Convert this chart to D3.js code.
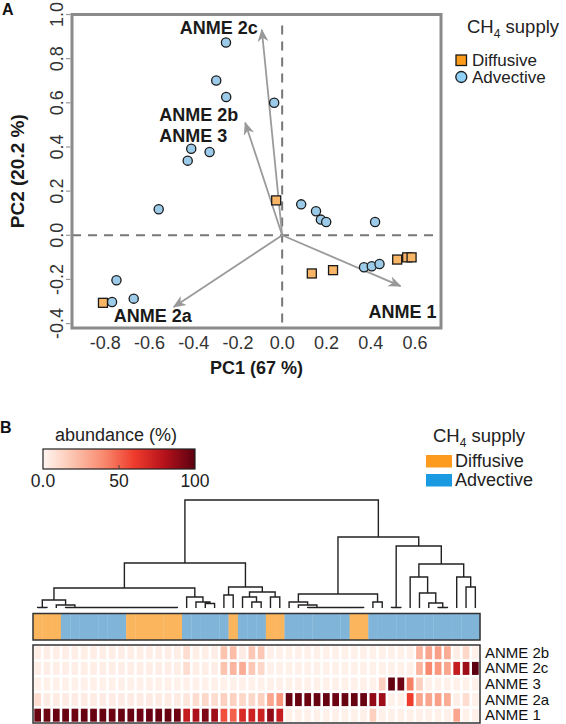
<!DOCTYPE html>
<html><head><meta charset="utf-8">
<script src="https://cdn.jsdelivr.net/npm/d3@7"></script>
<style>body{margin:0;background:#fff}svg{display:block}text{font-family:"Liberation Sans",Arial,sans-serif}</style>
</head><body><svg id="c" width="566" height="724"></svg>
<script>
// ---------------- DATA ----------------
// Panel A: PCA scores
const advectivePts = [[-0.254,0.873],[-0.298,0.701],[-0.253,0.626],[-0.036,0.600],[-0.411,0.392],[-0.328,0.377],[-0.427,0.338],[-0.558,0.118],[0.086,0.140],[0.153,0.109],[0.175,0.071],[0.199,0.060],[-0.749,-0.204],[-0.769,-0.302],[-0.671,-0.287],[0.42,0.06],[0.37,-0.145],[0.405,-0.14],[0.44,-0.13]];
const diffusivePts = [[-0.81,-0.306],[-0.027,0.158],[0.134,-0.173],[0.23,-0.158],[0.52,-0.11],[0.565,-0.10],[0.585,-0.10]];
const loadingNames = ["ANME 2c","ANME 2b/3","ANME 2a","ANME 1"];
const loadingX = [-0.092,-0.167,-0.49,0.535];
const loadingY = [0.931,0.51,-0.325,-0.23];
const xTicks = [-0.8,-0.6,-0.4,-0.2,0.0,0.2,0.4,0.6];
const yTicks = [-0.4,-0.2,0.0,0.2,0.4,0.6,0.8,1.0];
const supplyTypes = ["Diffusive","Advective"];

// Panel B: heatmap
const groups = ["ANME 2b","ANME 2c","ANME 3","ANME 2a","ANME 1"];
const sampleSupply = ("DDD"+"AAAAAAA"+"DDDDDD"+"AAAAA"+"D"+"AAA"+"DD"+"AAAAAAA"+"DD"+"AAAAAAAAAAAA").split("");
const anme2b = [3,3,3,3,3,3,3,3,3,3,3,3,3,3,3,3, 10,3,3,3,20,22,4,18,18, 2,2,2,2,2,2,2,2,2,2,2,2,2,2,2,2, 25,30,32,28,3,12,2];
const anme2c = [3,3,3,3,3,3,3,3,3,3,3,3,3,3,3,3, 10,3,3,3,20,25,28,18,12, 2,2,2,2,2,2,2,2,2,2,2,2,2,2,2,2, 25,40,35,30,75,85,100];
const anme3  = [2,2,2,2,2,2,2,2,2,2,2,2,2,2,2,2, 2,2,2,2,2,2,2,2,2, 2,2,2,2,2,2,2,2,2,2,2,2, 15,98,95,42,15, 2,2,2,2,2,2];
const anme2a = [10,4,4,4,4,4,4,4,4,4,4,4,4,4,4,4, 6,10,12,10,15,15,12,12,15, 30,35,97,97,96,97,97,96,97,97,97,88,85, 2,2,60,30,30,32,28,3,10,2];
const anme1  = [97,96,97,97,96,97,97,97,96,97,97,96,97,97,97,96, 75,82,92,85,55,50,68,72,72, 88,75,2,2,2,2,2,2,2,2,2,15,2, 2,2,2,2,2,2,2,30,2,2];
const heatRows = [anme2b, anme2c, anme3, anme2a, anme1];
const colorTicks = [0,50,100];
const colorTickLabels = ["0.0","50","100"];
// dendrogram: [height, left, right], leaves = column index
const dendroTree =
[1.0,
  [0.417,
    [0.185,
      [0.074,
        [0.004,0,1],
        [0.028,2,[0.005,3,[0.005,4,[0.005,5,[0.005,6,[0.005,7,[0.005,8,[0.005,9,[0.005,10,[0.005,11,[0.005,12,[0.005,13,[0.005,14,15]]]]]]]]]]]]]
      ],
      [0.102,16,[0.056,17,[0.042,18,19]]]
    ],
    [0.194,
      [0.12,20,21],
      [0.148,[0.102,22,[0.056,23,24]],[0.102,25,26]]
    ]
  ],
  [0.657,
    [0.130,
      [0.056,27,[0.028,28,[0.005,29,[0.005,30,[0.005,31,[0.005,32,[0.005,33,[0.005,34,35]]]]]]]],
      [0.056,36,37]
    ],
    [0.574,
      [0.005,38,39],
      [0.407,
        [0.287,40,[0.139,41,[0.046,42,[0.005,43,44]]]],
        [0.287,45,[0.194,46,47]]
      ]
    ]
  ]
];

// ---------------- DRAW ----------------
const svg = d3.select("#c");

// ===== Panel A =====
const x = d3.scaleLinear().domain([-0.95,0.718]).range([72,441]);
const y = d3.scaleLinear().domain([-0.42,1.0]).range([328,14.5]);
const gA = svg.append("g");

gA.append("text").attr("x",2).attr("y",15).attr("font-size",16).attr("font-weight","bold").attr("fill","#111").text("A");

// dashed zero lines
gA.append("line").attr("x1",x(0)).attr("x2",x(0)).attr("y1",y.range()[1]+11).attr("y2",y.range()[0])
  .attr("stroke","#777").attr("stroke-width",2).attr("stroke-dasharray","9,7");
gA.append("line").attr("x1",x.range()[0]).attr("x2",x.range()[1]).attr("y1",y(0)).attr("y2",y(0))
  .attr("stroke","#777").attr("stroke-width",2).attr("stroke-dasharray","9,7");

// arrows
const defs = svg.append("defs");
defs.append("marker").attr("id","ah").attr("viewBox","0 0 12 12").attr("refX",11).attr("refY",6)
  .attr("markerWidth",13).attr("markerHeight",13).attr("markerUnits","userSpaceOnUse").attr("orient","auto")
  .append("path").attr("d","M0,1 L12,6 L0,11 L3.5,6 Z").attr("fill","#999");
loadingNames.forEach((n,i)=>{
  gA.append("line").attr("x1",x(0)).attr("y1",y(0)).attr("x2",x(loadingX[i])).attr("y2",y(loadingY[i]))
    .attr("stroke","#9a9a9a").attr("stroke-width",1.8).attr("marker-end","url(#ah)");
});
// arrow labels (offsets in px from arrow tips)
const labelSpecs = [
  {i:0, t:"ANME 2c", dx:-4, dy:4, anchor:"end"},
  {i:1, t:"ANME 2b", dx:-86, dy:-2, anchor:"start"},
  {i:1, t:"ANME 3", dx:-86, dy:19, anchor:"start"},
  {i:2, t:"ANME 2a", dx:-60, dy:15, anchor:"start"},
  {i:3, t:"ANME 1", dx:-32, dy:32, anchor:"start"}
];
labelSpecs.forEach(s=>{
  gA.append("text").attr("x",x(loadingX[s.i])+s.dx).attr("y",y(loadingY[s.i])+s.dy)
    .attr("text-anchor",s.anchor).attr("font-size",18).attr("font-weight","bold").attr("fill","#1a1a1a").text(s.t);
});

// points
gA.selectAll("circle.adv").data(advectivePts).join("circle").attr("class","adv")
  .attr("cx",d=>x(d[0])).attr("cy",d=>y(d[1])).attr("r",4.6)
  .attr("fill","#9ccbe9").attr("stroke","#1a1a1a").attr("stroke-width",1.3);
gA.selectAll("rect.dif").data(diffusivePts).join("rect").attr("class","dif")
  .attr("x",d=>x(d[0])-4.5).attr("y",d=>y(d[1])-4.5).attr("width",9).attr("height",9)
  .attr("fill","#f7b565").attr("stroke","#1a1a1a").attr("stroke-width",1.3);

// frame
gA.append("rect").attr("x",x.range()[0]).attr("y",y.range()[1]).attr("width",x.range()[1]-x.range()[0])
  .attr("height",y.range()[0]-y.range()[1]).attr("fill","none").attr("stroke","#8a8a8a").attr("stroke-width",3);

// ticks
xTicks.forEach(t=>{
  gA.append("text").attr("x",x(t)).attr("y",349).attr("text-anchor","middle").attr("font-size",18).attr("fill","#333")
    .text(t.toFixed(1));
});
yTicks.forEach(t=>{
  gA.append("line").attr("x1",x.range()[0]-6).attr("x2",x.range()[0]-1.5).attr("y1",y(t)).attr("y2",y(t)).attr("stroke","#999").attr("stroke-width",1.2);
  gA.append("text").attr("transform",`translate(63,${y(t)}) rotate(-90)`).attr("text-anchor","middle")
    .attr("font-size",18).attr("fill","#333").text(t.toFixed(1));
});
gA.append("text").attr("x",(x.range()[0]+x.range()[1])/2).attr("y",374).attr("text-anchor","middle")
  .attr("font-size",18).attr("font-weight","bold").attr("fill","#1a1a1a").text("PC1 (67 %)");
gA.append("text").attr("transform",`translate(24,${(y.range()[0]+y.range()[1])/2}) rotate(-90)`).attr("text-anchor","middle")
  .attr("font-size",19).attr("font-weight","bold").attr("fill","#1a1a1a").text("PC2 (20.2 %)");

// legend A
const lgA = gA.append("g");
const tA = lgA.append("text").attr("x",467).attr("y",33).attr("font-size",18.5).attr("fill","#222");
tA.append("tspan").text("CH");
tA.append("tspan").attr("font-size",12).attr("dy",5).text("4");
tA.append("tspan").attr("dy",-5).text(" supply");
lgA.append("rect").attr("x",456).attr("y",55).attr("width",10.5).attr("height",10.5).attr("fill","#fd9c1a").attr("stroke","#1a1a1a").attr("stroke-width",1.3);
lgA.append("text").attr("x",472).attr("y",65.5).attr("font-size",17).attr("fill","#222").text(supplyTypes[0]);
lgA.append("circle").attr("cx",461.3).attr("cy",77).attr("r",5.5).attr("fill","#8fd1f6").attr("stroke","#1a1a1a").attr("stroke-width",1.3);
lgA.append("text").attr("x",472).attr("y",83).attr("font-size",17).attr("fill","#222").text(supplyTypes[1]);

// ===== Panel B =====
const gB = svg.append("g");
gB.append("text").attr("x",0).attr("y",433).attr("font-size",16).attr("font-weight","bold").attr("fill","#111").text("B");

const color = d3.scaleLinear().domain([0,20,40,60,80,100])
  .range(["#fff5f0","#fcc3ae","#f8896e","#ef3b2c","#b5121b","#5a0010"]);

// colour bar legend
const cbX = d3.scaleLinear().domain([0,100]).range([43,195]);
const grad = defs.append("linearGradient").attr("id","cg");
d3.range(0,101,5).forEach(v=>grad.append("stop").attr("offset",v+"%").attr("stop-color",color(v)));
gB.append("text").attr("x",55).attr("y",441).attr("font-size",18).attr("fill","#222").text("abundance (%)");
gB.append("rect").attr("x",cbX(0)).attr("y",449).attr("width",cbX(100)-cbX(0)).attr("height",20).attr("fill","url(#cg)").attr("stroke","#222").attr("stroke-width",1.2);
gB.append("line").attr("x1",cbX(50)).attr("x2",cbX(50)).attr("y1",465).attr("y2",469).attr("stroke","#444").attr("stroke-width",1);
colorTicks.forEach((t,i)=>{
  gB.append("text").attr("x",cbX(t)).attr("y",487).attr("text-anchor","middle").attr("font-size",17.5).attr("fill","#222").text(colorTickLabels[i]);
});

// supply legend B
const supplyBarColor = {D:"#fbb55d", A:"#80b5d9"};
const supplyLegColor = ["#fd9b1e","#1a9ae0"];
const tB = gB.append("text").attr("x",433).attr("y",442).attr("font-size",18.5).attr("fill","#222");
tB.append("tspan").text("CH");
tB.append("tspan").attr("font-size",12).attr("dy",5).text("4");
tB.append("tspan").attr("dy",-5).text(" supply");
supplyTypes.forEach((s,i)=>{
  gB.append("rect").attr("x",426).attr("y",455+i*19).attr("width",26).attr("height",12.5).attr("fill",supplyLegColor[i]);
  gB.append("text").attr("x",455).attr("y",467+i*19).attr("font-size",18).attr("fill","#222").text(s);
});

// heatmap
const nCol = sampleSupply.length;
const xb = d3.scaleBand().domain(d3.range(nCol)).range([33,480]).padding(0);
const yb = d3.scaleBand().domain(groups).range([645,723]).padding(0);
const bw = xb.bandwidth(), bh = yb.bandwidth();

// supply bar
gB.selectAll("rect.sup").data(sampleSupply).join("rect").attr("class","sup")
  .attr("x",(d,i)=>xb(i)).attr("y",613.5).attr("width",bw+0.3).attr("height",26.5).attr("fill",d=>supplyBarColor[d]);
gB.append("rect").attr("x",33).attr("y",613.5).attr("width",447).attr("height",26.5).attr("fill","none").attr("stroke","#333").attr("stroke-width",1.5);

heatRows.forEach((row,r)=>{
  gB.selectAll("rect.h"+r).data(row).join("rect").attr("class","h"+r)
    .attr("x",(d,i)=>xb(i)+1.3).attr("y",yb(groups[r])+1.3).attr("width",bw-2.6).attr("height",bh-2.6)
    .attr("fill",d=>color(d));
  gB.append("text").attr("x",485).attr("y",yb(groups[r])+bh/2+5).attr("font-size",15).attr("fill","#111").text(groups[r]);
});
gB.append("rect").attr("x",33).attr("y",645).attr("width",447).attr("height",78).attr("fill","none").attr("stroke","#333").attr("stroke-width",1.5);

// dendrogram
const dy = d3.scaleLinear().domain([0,1]).range([608,500]);
function lay(node){
  if (typeof node === "number") return {x: xb(node)+bw/2, h:0};
  const L = lay(node[1]), R = lay(node[2]);
  return {x:(L.x+R.x)/2, h:node[0], L, R};
}
const root = lay(dendroTree);
const segs = [];
(function walk(n){
  if (!n.L) return;
  segs.push(`M${n.L.x},${dy(n.L.h)}V${dy(n.h)}H${n.R.x}V${dy(n.R.h)}`);
  walk(n.L); walk(n.R);
})(root);
gB.append("path").attr("d",segs.join("")).attr("fill","none").attr("stroke","#222").attr("stroke-width",1.4);
</script></body></html>
